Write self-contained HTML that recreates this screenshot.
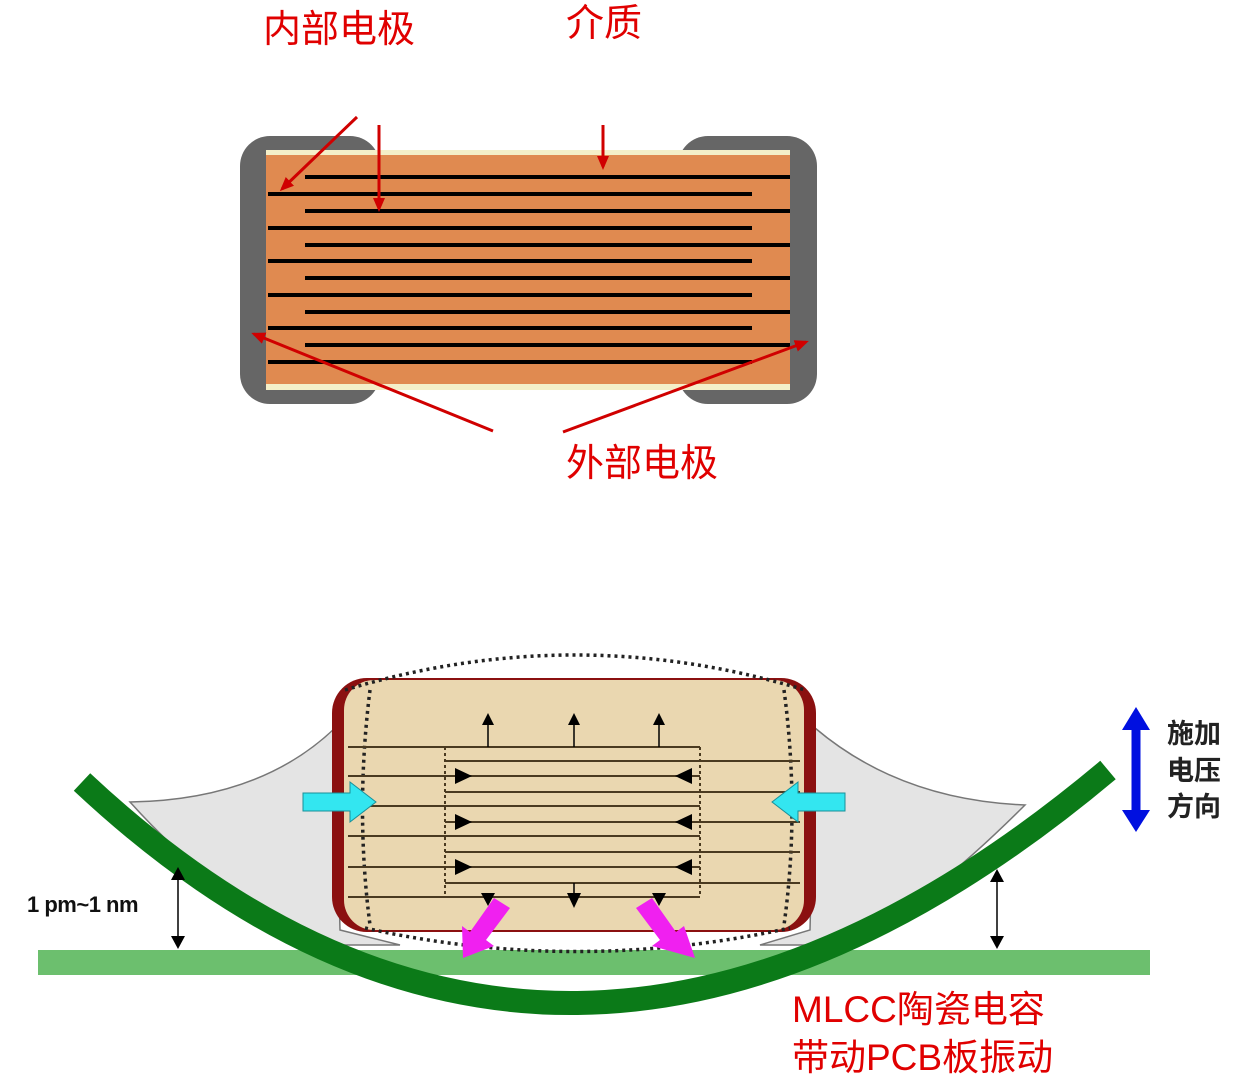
<!DOCTYPE html>
<html><head><meta charset="utf-8"><style>
html,body{margin:0;padding:0;background:#fff;}
svg{display:block;}
</style></head><body>
<svg width="1237" height="1087" viewBox="0 0 1237 1087" xmlns="http://www.w3.org/2000/svg" font-family="'Liberation Sans','Noto Sans CJK SC',sans-serif">
<defs>
<marker id="ra" markerWidth="14" markerHeight="12" refX="11" refY="6" orient="auto" markerUnits="userSpaceOnUse"><path d="M0,0 L14,6 L0,12z" fill="#d00000"/></marker>
</defs>
<!-- top capacitor -->
<rect x="240" y="136" width="140" height="268" rx="30" fill="#666"/>
<rect x="678" y="136" width="139" height="268" rx="30" fill="#666"/>
<rect x="266" y="150" width="524" height="240" fill="#f4efc8"/>
<rect x="266" y="155" width="524" height="229" fill="#e08a50"/>
<g stroke="#000" stroke-width="4">
<line x1="305" y1="177" x2="790" y2="177"/><line x1="268" y1="194" x2="752" y2="194"/>
<line x1="305" y1="211" x2="790" y2="211"/><line x1="268" y1="228" x2="752" y2="228"/>
<line x1="305" y1="245" x2="790" y2="245"/><line x1="268" y1="261" x2="752" y2="261"/>
<line x1="305" y1="278" x2="790" y2="278"/><line x1="268" y1="295" x2="752" y2="295"/>
<line x1="305" y1="312" x2="790" y2="312"/><line x1="268" y1="328" x2="752" y2="328"/>
<line x1="305" y1="345" x2="790" y2="345"/><line x1="268" y1="362" x2="752" y2="362"/>
</g>
<g stroke="#d00000" stroke-width="3" marker-end="url(#ra)">
<line x1="357" y1="117" x2="282" y2="189"/>
<line x1="379" y1="125" x2="379" y2="209"/>
<line x1="603" y1="125" x2="603" y2="167"/>
<line x1="493" y1="431" x2="254" y2="334"/>
<line x1="563" y1="432" x2="806" y2="342"/>
</g>
<g fill="#e00000" font-size="38">
<text x="263" y="42">内部电极</text>
<text x="566" y="36">介质</text>
<text x="566" y="476">外部电极</text>
</g>
<!-- bottom -->
<rect x="38" y="950" width="1112" height="25" fill="#6cbf6e"/>
<path d="M130,802 Q260,800 335,728 L340,930 L400,945 L300,945 Q200,880 130,802z" fill="#e4e4e4" stroke="#777" stroke-width="1.5"/>
<path d="M815,728 Q900,800 1025,805 Q930,900 850,945 L760,945 L810,930z" fill="#e4e4e4" stroke="#777" stroke-width="1.5"/>
<rect x="332" y="678" width="484" height="254" rx="35" fill="#8b1010"/>
<rect x="344" y="680" width="460" height="250" rx="30" fill="#ead7b0"/>
<path d="M345,690 Q575,620 805,690" fill="none" stroke="#222" stroke-width="3.5" stroke-dasharray="3 4"/>
<path d="M365,928 Q575,975 790,928" fill="none" stroke="#222" stroke-width="3.5" stroke-dasharray="3 4"/>
<path d="M370,690 Q355,810 370,925" fill="none" stroke="#222" stroke-width="3.5" stroke-dasharray="3 4"/>
<path d="M784,690 Q800,810 784,925" fill="none" stroke="#222" stroke-width="3.5" stroke-dasharray="3 4"/>
<g stroke="#4a3a20" stroke-width="2">
<line x1="348" y1="747" x2="700" y2="747"/><line x1="445" y1="761" x2="800" y2="761"/>
<line x1="348" y1="776" x2="700" y2="776"/><line x1="445" y1="792" x2="800" y2="792"/>
<line x1="348" y1="806" x2="700" y2="806"/><line x1="445" y1="822" x2="800" y2="822"/>
<line x1="348" y1="836" x2="700" y2="836"/><line x1="445" y1="852" x2="800" y2="852"/>
<line x1="348" y1="867" x2="700" y2="867"/><line x1="445" y1="883" x2="800" y2="883"/>
<line x1="348" y1="897" x2="700" y2="897"/>
<line x1="445" y1="747" x2="445" y2="897" stroke-dasharray="3 3"/>
<line x1="700" y1="747" x2="700" y2="897" stroke-dasharray="3 3"/>
</g>
<g fill="#000">
<path d="M455,768 L472,776 L455,784z"/><path d="M455,814 L472,822 L455,830z"/><path d="M455,859 L472,867 L455,875z"/>
<path d="M692,768 L675,776 L692,784z"/><path d="M692,814 L675,822 L692,830z"/><path d="M692,859 L675,867 L692,875z"/>
<path d="M482,725 L488,713 L494,725z"/><path d="M568,725 L574,713 L580,725z"/><path d="M653,725 L659,713 L665,725z"/>
<path d="M567,893 L574,908 L581,893z"/><path d="M481,893 L488,906 L495,893z"/><path d="M652,893 L659,906 L666,893z"/>
</g>
<g stroke="#000" stroke-width="1.5"><line x1="488" y1="725" x2="488" y2="747"/><line x1="574" y1="725" x2="574" y2="747"/><line x1="659" y1="725" x2="659" y2="747"/><line x1="574" y1="883" x2="574" y2="895"/></g>
<path d="M303,793 L350,793 L350,782 L376,802 L350,822 L350,811 L303,811z" fill="#33e6f0" stroke="#1a8f99" stroke-width="1"/>
<path d="M845,793 L798,793 L798,782 L772,802 L798,822 L798,811 L845,811z" fill="#33e6f0" stroke="#1a8f99" stroke-width="1"/>
<path d="M494,898 L510,908 L486,940 L494,946 L463,958 L462,926 L470,932z" fill="#f020f0"/>
<path d="M652,898 L636,908 L660,940 L652,946 L695,958 L684,926 L676,932z" fill="#f020f0"/>
<path d="M82,782 Q560,1230 1108,770" fill="none" stroke="#0b7a18" stroke-width="24"/>
<g stroke="#000" stroke-width="1.5"><line x1="178" y1="876" x2="178" y2="940"/><line x1="997" y1="878" x2="997" y2="940"/></g>
<g fill="#000">
<path d="M171,880 L178,867 L185,880z"/><path d="M171,936 L178,949 L185,936z"/>
<path d="M990,882 L997,869 L1004,882z"/><path d="M990,936 L997,949 L1004,936z"/>
</g>
<text x="27" y="912" font-size="22" fill="#111" font-weight="bold" letter-spacing="-0.5">1 pm~1 nm</text>
<line x1="1136" y1="722" x2="1136" y2="818" stroke="#0010e0" stroke-width="9"/>
<path d="M1122,730 L1136,707 L1150,730z M1122,810 L1136,832 L1150,810z" fill="#0010e0"/>
<g font-size="27" font-weight="bold" fill="#222">
<text x="1167" y="743">施加</text><text x="1167" y="780">电压</text><text x="1167" y="816">方向</text>
</g>
<g fill="#e00000" font-size="37">
<text x="792" y="1022">MLCC陶瓷电容</text>
<text x="792" y="1070">带动PCB板振动</text>
</g>
</svg>
</body></html>
